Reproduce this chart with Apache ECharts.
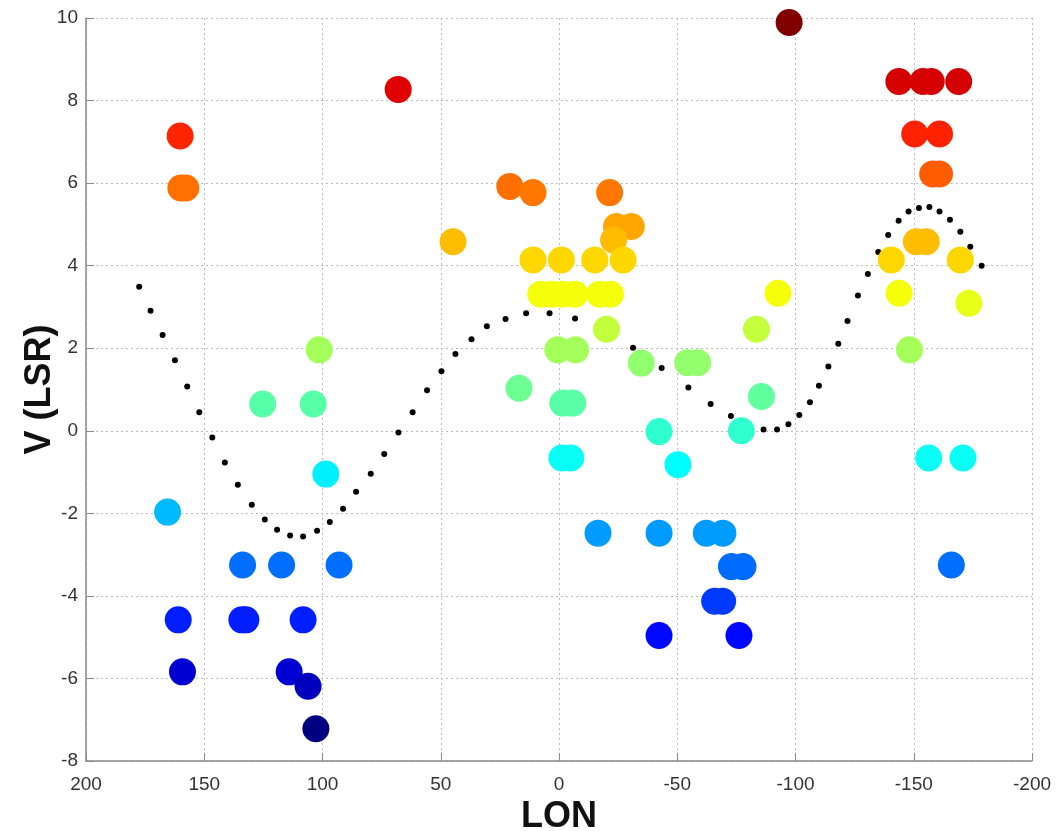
<!DOCTYPE html>
<html>
<head>
<meta charset="utf-8">
<script src="https://cdn.jsdelivr.net/npm/echarts@6/dist/echarts.min.js"></script>
<style>
  html, body { margin: 0; padding: 0; background: #fff; }
  #chart { width: 1057px; height: 831px; }
</style>
</head>
<body>
<div id="chart"></div>
<script>
// clouds: longitude and LSR velocity
const cloudLon = [
  -97.3, 68.0, -143.7, -153.9, -157.4, -169.0, -150.4, -160.9, -158.0, -160.9,
  -151.1, -155.3, -140.5, -169.7, -143.8, -92.6, -173.3, -83.5, -148.2, -85.6,
  -77.1, -156.3, -170.8, -62.3, -69.3, -72.9, -77.8, -165.9, -65.8, -69.2,
  -76.1, 44.8, 20.8, 11.0, -21.4, -24.3, -30.6, -23.1, 11.0, -1.0,
  -15.1, -27.1, 7.7, 3.1, -1.6, -6.7, -17.2, -21.8, -20.1, 0.5,
  -7.0, -34.8, -54.4, -58.6, 16.9, -1.6, -5.8, -42.3, -1.2, -5.0,
  -50.3, -16.5, -42.3, -42.3, 160.2, 159.9, 157.8, 101.4, 125.3, 103.9,
  98.6, 165.5, 133.8, 117.3, 93.0, 161.0, 134.1, 132.4, 108.2, 159.2,
  114.1, 106.1, 102.8
];
const cloudV = [
  9.89, 8.27, 8.46, 8.46, 8.46, 8.46, 7.19, 7.19, 6.22, 6.22,
  4.58, 4.58, 4.14, 4.14, 3.33, 3.33, 3.09, 2.46, 1.96, 0.83,
  0.0, -0.66, -0.66, -2.48, -2.48, -3.29, -3.29, -3.25, -4.13, -4.13,
  -4.96, 4.58, 5.92, 5.77, 5.77, 4.95, 4.95, 4.62, 4.14, 4.14,
  4.14, 4.14, 3.31, 3.31, 3.31, 3.31, 3.31, 3.31, 2.46, 1.96,
  1.96, 1.64, 1.65, 1.65, 1.03, 0.67, 0.67, -0.02, -0.66, -0.66,
  -0.82, -2.48, -2.48, -4.96, 7.14, 5.88, 5.88, 1.96, 0.65, 0.65,
  -1.05, -1.97, -3.25, -3.25, -3.25, -4.58, -4.58, -4.58, -4.58, -5.84,
  -5.84, -6.19, -7.22
];

// model rotation curve (dotted)
const curveLon = [
  177.5, 172.7, 167.6, 162.4, 157.2, 152.1, 146.6, 141.3, 135.8, 129.9,
  124.4, 119.2, 113.7, 108.2, 102.3, 96.9, 91.3, 85.8, 79.6, 73.9,
  67.9, 61.9, 55.8, 49.7, 43.8, 37.0, 30.5, 22.6, 13.9, 4.0,
  -6.8, -31.3, -43.4, -54.7, -64.1, -72.7, -86.5, -92.2, -97.0, -101.6,
  -106.1, -109.9, -113.9, -118.1, -122.0, -126.4, -130.6, -135.0, -139.2, -143.6,
  -147.8, -152.2, -156.6, -160.9, -165.3, -169.7, -173.9, -178.7
];
const curveV = [
  3.49, 2.91, 2.32, 1.71, 1.07, 0.45, -0.16, -0.77, -1.31, -1.79,
  -2.15, -2.40, -2.54, -2.56, -2.42, -2.21, -1.89, -1.48, -1.04, -0.56,
  -0.04, 0.45, 0.98, 1.44, 1.86, 2.22, 2.53, 2.71, 2.85, 2.85,
  2.72, 2.01, 1.52, 1.05, 0.65, 0.36, 0.03, 0.03, 0.16, 0.38,
  0.69, 1.09, 1.56, 2.11, 2.66, 3.28, 3.80, 4.33, 4.74, 5.09,
  5.31, 5.40, 5.42, 5.31, 5.11, 4.82, 4.46, 4.00
];

const jet = ['#000080', '#0000ff', '#0080ff', '#00ffff', '#80ff80', '#ffff00', '#ff8000', '#ff0000', '#800000'];
const font = 'Liberation Sans, Arial, sans-serif';

const chart = echarts.init(document.getElementById('chart'));
chart.setOption({
  animation: false,
  backgroundColor: '#fff',
  grid: { left: 86, right: 25, top: 18, bottom: 70, outerBoundsMode: 'none' },
  xAxis: {
    type: 'value',
    min: -200, max: 200, interval: 50,
    inverse: true,
    name: 'LON',
    nameLocation: 'middle',
    nameGap: 38,
    nameMoveOverlap: false,
    nameTextStyle: { fontFamily: font, fontWeight: 'bold', fontSize: 36, color: '#111' },
    axisLine: { onZero: false, lineStyle: { color: '#888', width: 1.5 } },
    axisTick: { inside: true, length: 8, lineStyle: { color: '#888' } },
    axisLabel: { fontFamily: font, fontSize: 19, color: '#333', margin: 14 },
    splitLine: { show: true, lineStyle: { color: '#bbb', type: [2, 3], width: 1 } }
  },
  yAxis: {
    type: 'value',
    min: -8, max: 10, interval: 2,
    name: 'V (LSR)',
    nameLocation: 'middle',
    nameGap: 28,
    nameMoveOverlap: false,
    nameTextStyle: { fontFamily: font, fontWeight: 'bold', fontSize: 36, color: '#111' },
    axisLine: { onZero: false, lineStyle: { color: '#888', width: 1.5 } },
    axisTick: { inside: true, length: 8, lineStyle: { color: '#888' } },
    axisLabel: { fontFamily: font, fontSize: 19, color: '#333', margin: 8 },
    splitLine: { show: true, lineStyle: { color: '#bbb', type: [2, 3], width: 1 } }
  },
  visualMap: {
    show: false,
    type: 'continuous',
    seriesIndex: 1,
    dimension: 1,
    min: -7.22, max: 9.89,
    inRange: { color: jet }
  },
  series: [
    {
      type: 'scatter',
      symbol: 'circle',
      symbolSize: 6,
      itemStyle: { color: '#000', opacity: 1 },
      z: 2,
      data: curveLon.map((x, i) => [x, curveV[i]])
    },
    {
      type: 'scatter',
      symbol: 'circle',
      symbolSize: 27,
      itemStyle: { opacity: 1 },
      z: 3,
      data: cloudLon.map((x, i) => [x, cloudV[i]])
    }
  ]
});
</script>
</body>
</html>
